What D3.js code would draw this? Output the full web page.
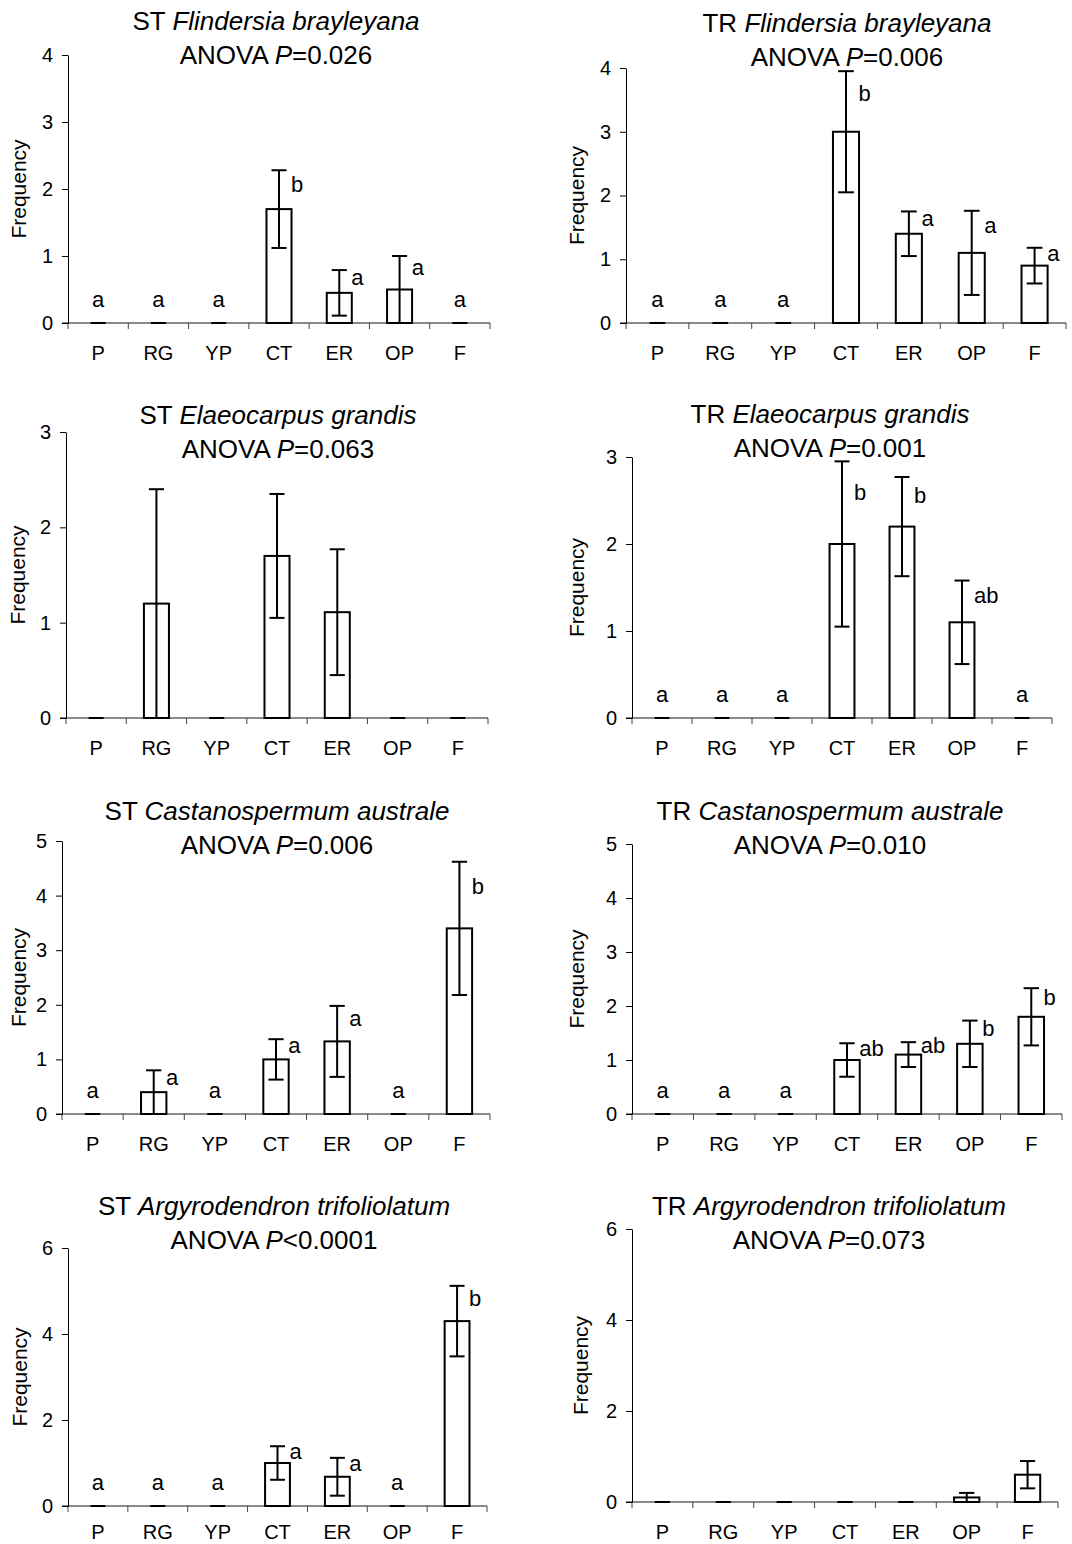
<!DOCTYPE html>
<html>
<head>
<meta charset="utf-8">
<script src="https://cdn.jsdelivr.net/npm/d3@7"></script>
<style>
  body { margin: 0; background: #fff; }
  svg { display: block; }
  text { font-family: "Liberation Sans", Arial, Helvetica, sans-serif; fill: #000; }
</style>
</head>
<body>
<svg id="chart" width="1072" height="1544"></svg>
<script>
// Habitat categories along the x axis
const categories = ["P", "RG", "YP", "CT", "ER", "OP", "F"];

// Panel headings
const sites = ["ST", "TR", "ST", "TR", "ST", "TR", "ST", "TR"];
const species = [
  "Flindersia brayleyana", "Flindersia brayleyana",
  "Elaeocarpus grandis", "Elaeocarpus grandis",
  "Castanospermum australe", "Castanospermum australe",
  "Argyrodendron trifoliolatum", "Argyrodendron trifoliolatum"
];
const pValues = ["=0.026", "=0.006", "=0.063", "=0.001", "=0.006", "=0.010", "<0.0001", "=0.073"];

// Mean frequency per category
const stFlindersiaMean = [0, 0, 0, 1.7, 0.45, 0.5, 0];
const trFlindersiaMean = [0, 0, 0, 3.0, 1.4, 1.1, 0.9];
const stElaeocarpusMean = [0, 1.2, 0, 1.7, 1.11, 0, 0];
const trElaeocarpusMean = [0, 0, 0, 2.0, 2.2, 1.1, 0];
const stCastanospermumMean = [0, 0.4, 0, 1.0, 1.33, 0, 3.4];
const trCastanospermumMean = [0, 0, 0, 1.0, 1.1, 1.3, 1.8];
const stArgyrodendronMean = [0, 0, 0, 1.0, 0.68, 0, 4.3];
const trArgyrodendronMean = [0, 0, 0, 0, 0, 0.1, 0.6];

// Standard errors per category
const stFlindersiaErr = [0, 0, 0, 0.58, 0.34, 0.5, 0];
const trFlindersiaErr = [0, 0, 0, 0.95, 0.35, 0.66, 0.28];
const stElaeocarpusErr = [0, 1.2, 0, 0.65, 0.66, 0, 0];
const trElaeocarpusErr = [0, 0, 0, 0.95, 0.57, 0.48, 0];
const stCastanospermumErr = [0, 0.4, 0, 0.37, 0.65, 0, 1.22];
const trCastanospermumErr = [0, 0, 0, 0.31, 0.23, 0.43, 0.53];
const stArgyrodendronErr = [0, 0, 0, 0.39, 0.44, 0, 0.82];
const trArgyrodendronErr = [0, 0, 0, 0, 0, 0.1, 0.3];

// Post-hoc group letters (empty where none are shown)
const stFlindersiaLetters = ["a", "a", "a", "b", "a", "a", "a"];
const trFlindersiaLetters = ["a", "a", "a", "b", "a", "a", "a"];
const stElaeocarpusLetters = [];
const trElaeocarpusLetters = ["a", "a", "a", "b", "b", "ab", "a"];
const stCastanospermumLetters = ["a", "a", "a", "a", "a", "a", "b"];
const trCastanospermumLetters = ["a", "a", "a", "ab", "ab", "b", "b"];
const stArgyrodendronLetters = ["a", "a", "a", "a", "a", "a", "b"];
const trArgyrodendronLetters = [];

// y-axis tick labels per panel
const ticks4 = [0, 1, 2, 3, 4];
const ticks3 = [0, 1, 2, 3];
const ticks5 = [0, 1, 2, 3, 4, 5];
const ticks6 = [0, 2, 4, 6];

const means = [stFlindersiaMean, trFlindersiaMean, stElaeocarpusMean, trElaeocarpusMean,
  stCastanospermumMean, trCastanospermumMean, stArgyrodendronMean, trArgyrodendronMean];
const errs = [stFlindersiaErr, trFlindersiaErr, stElaeocarpusErr, trElaeocarpusErr,
  stCastanospermumErr, trCastanospermumErr, stArgyrodendronErr, trArgyrodendronErr];
const letters = [stFlindersiaLetters, trFlindersiaLetters, stElaeocarpusLetters, trElaeocarpusLetters,
  stCastanospermumLetters, trCastanospermumLetters, stArgyrodendronLetters, trArgyrodendronLetters];
const yTicks = [ticks4, ticks4, ticks3, ticks3, ticks5, ticks5, ticks6, ticks6];

// Plot-area frames (pixels): axis extents, heading centre/baseline,
// y-label position and category-label padding
const frames = [
  { left: 68, right: 490, top: 55, bottom: 323, tx: 276, ty: 30, lx: 20, pad: 23 },
  { left: 626, right: 1066, top: 68, bottom: 323, tx: 847, ty: 32, lx: 578, pad: 23 },
  { left: 66, right: 488, top: 432, bottom: 718, tx: 278, ty: 424, lx: 19, pad: 23 },
  { left: 632, right: 1052, top: 457, bottom: 718, tx: 830, ty: 423, lx: 578, pad: 23 },
  { left: 62, right: 490, top: 841, bottom: 1114, tx: 277, ty: 820, lx: 20, pad: 23 },
  { left: 632, right: 1062, top: 844, bottom: 1114, tx: 830, ty: 820, lx: 578, pad: 23 },
  { left: 68, right: 487, top: 1248, bottom: 1506, tx: 274, ty: 1215, lx: 21, pad: 19 },
  { left: 632, right: 1058, top: 1229, bottom: 1502, tx: 829, ty: 1215, lx: 582, pad: 23 }
];

const svg = d3.select("#chart");

frames.forEach((f, i) => {
  const g = svg.append("g");
  const tv = yTicks[i];
  const x = d3.scaleBand().domain(categories).range([f.left, f.right]).padding(0);
  const y = d3.scaleLinear().domain([0, d3.max(tv)]).range([f.bottom, f.top]);
  const bw = x.bandwidth();
  const barW = bw * 0.415;
  const capW = bw * 0.25;
  const cx = c => x(c) + bw / 2;

  // Heading
  const h1 = g.append("text").attr("x", f.tx).attr("y", f.ty)
    .attr("text-anchor", "middle").style("font-size", "26px");
  h1.append("tspan").text(sites[i] + " ");
  h1.append("tspan").style("font-style", "italic").text(species[i]);
  const h2 = g.append("text").attr("x", f.tx).attr("y", f.ty + 33.5)
    .attr("text-anchor", "middle").style("font-size", "26px");
  h2.append("tspan").text("ANOVA ");
  h2.append("tspan").style("font-style", "italic").text("P");
  h2.append("tspan").text(pValues[i]);

  // Category axis: grey baseline with boundary ticks
  g.append("line")
    .attr("x1", f.left - 6).attr("x2", f.right)
    .attr("y1", y(0)).attr("y2", y(0))
    .attr("stroke", "#8a8a8a").attr("stroke-width", 2);
  const edges = categories.map(c => x(c)).concat([x.range()[1]]);
  g.selectAll(".xtick").data(edges).enter().append("line")
    .attr("x1", d => d).attr("x2", d => d)
    .attr("y1", y(0)).attr("y2", y(0) + 6)
    .attr("stroke", "#444").attr("stroke-width", 1);
  const xAxis = g.append("g").attr("transform", `translate(0,${y(0)})`)
    .call(d3.axisBottom(x).tickSize(0).tickPadding(f.pad));
  xAxis.select(".domain").remove();
  xAxis.selectAll("text").style("font-size", "20px").attr("font-family", null).attr("fill", "#000");

  // Bars
  categories.forEach((c, k) => {
    const v = means[i][k];
    if (v > 0) {
      g.append("rect")
        .attr("x", cx(c) - barW / 2).attr("y", y(v))
        .attr("width", barW).attr("height", y(0) - y(v))
        .attr("fill", "#fff").attr("stroke", "#000").attr("stroke-width", 2);
    } else {
      g.append("line")
        .attr("x1", cx(c) - capW / 2).attr("x2", cx(c) + capW / 2)
        .attr("y1", y(0)).attr("y2", y(0))
        .attr("stroke", "#000").attr("stroke-width", 2);
    }
  });

  // Error bars
  categories.forEach((c, k) => {
    const v = means[i][k], e = errs[i][k];
    if (!(e > 0)) return;
    const hi = v + e, lo = Math.max(0, v - e);
    g.append("line").attr("x1", cx(c)).attr("x2", cx(c))
      .attr("y1", y(hi)).attr("y2", y(lo))
      .attr("stroke", "#000").attr("stroke-width", 2);
    g.append("line").attr("x1", cx(c) - capW / 2).attr("x2", cx(c) + capW / 2)
      .attr("y1", y(hi)).attr("y2", y(hi))
      .attr("stroke", "#000").attr("stroke-width", 2);
    if (v - e > 0.001) {
      g.append("line").attr("x1", cx(c) - capW / 2).attr("x2", cx(c) + capW / 2)
        .attr("y1", y(lo)).attr("y2", y(lo))
        .attr("stroke", "#000").attr("stroke-width", 2);
    }
  });

  // Group letters
  const fs = 22;
  letters[i].forEach((L, k) => {
    const c = categories[k];
    const v = means[i][k], e = errs[i][k];
    if (v > 0) {
      const top = y(v + e), barTop = y(v);
      const mid = top + 0.4 * (barTop - top);
      g.append("text").attr("x", cx(c) + bw * 0.2).attr("y", mid + 0.26 * fs)
        .style("font-size", fs + "px").text(L);
    } else {
      g.append("text").attr("x", cx(c)).attr("y", y(0) - 16)
        .attr("text-anchor", "middle").style("font-size", fs + "px").text(L);
    }
  });

  // Frequency axis
  const yAxis = g.append("g").attr("transform", `translate(${f.left},0)`)
    .call(d3.axisLeft(y).tickValues(tv).tickFormat(d3.format("d"))
      .tickSize(6).tickSizeOuter(0).tickPadding(9));
  yAxis.select(".domain").attr("stroke", "#000").attr("stroke-width", 1);
  yAxis.selectAll(".tick line").attr("stroke", "#000");
  yAxis.selectAll("text").style("font-size", "20px").attr("font-family", null).attr("fill", "#000");

  g.append("text")
    .attr("transform", `translate(${f.lx + 6},${(f.top + f.bottom) / 2}) rotate(-90)`)
    .attr("text-anchor", "middle").style("font-size", "21px").text("Frequency");
});
</script>
</body>
</html>
